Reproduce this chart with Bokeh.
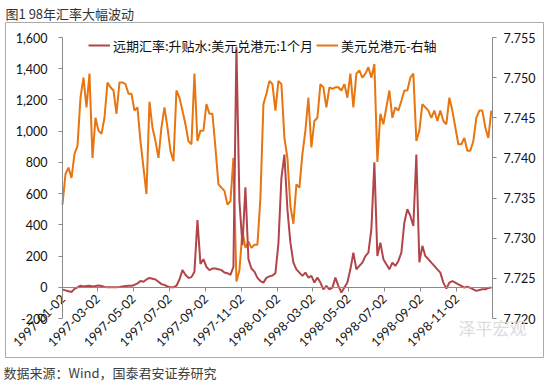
import math
import pandas as pd
from bokeh.plotting import figure
from bokeh.models import (Range1d, LinearAxis, DatetimeAxis, FixedTicker, NumeralTickFormatter,
                          DatetimeTickFormatter, Legend, LegendItem, Label, Title)
from bokeh.embed import file_html
from bokeh.resources import INLINE

# ---------------- data ----------------
title_text = "图1 98年汇率大幅波动"
source_text = "数据来源：Wind，国泰君安证券研究"
watermark_text = "泽平宏观"
name_fwd = "远期汇率:升贴水:美元兑港元:1个月"
name_spot = "美元兑港元-右轴"

dates = pd.date_range("1997-01-02", "1998-12-31", periods=144)

usdhkd = [
    7.7342, 7.7380, 7.7388, 7.7375, 7.7405, 7.7415, 7.7475, 7.7500, 7.7463, 7.7505,
    7.7400, 7.7450, 7.7434, 7.7430, 7.7450, 7.7494, 7.7488, 7.7484, 7.7455, 7.7494,
    7.7494, 7.7492, 7.7480, 7.7480, 7.7459, 7.7463, 7.7421, 7.7388, 7.7355, 7.7470,
    7.7438, 7.7421, 7.7400, 7.7438, 7.7463, 7.7438, 7.7409, 7.7396, 7.7484, 7.7475,
    7.7459, 7.7442, 7.7421, 7.7417, 7.7505, 7.7421, 7.7434, 7.7434, 7.7467, 7.7455,
    7.7455, 7.7413, 7.7367, 7.7363, 7.7359, 7.7342, 7.7346, 7.7400, 7.7246, 7.7260,
    7.7309, 7.7288, 7.7296, 7.7288, 7.7292, 7.7292, 7.7350, 7.7467, 7.7480, 7.7496,
    7.7492, 7.7459, 7.7496, 7.7492, 7.7425, 7.7400, 7.7340, 7.7318, 7.7367, 7.7363,
    7.7405, 7.7434, 7.7475, 7.7413, 7.7446, 7.7450, 7.7492, 7.7488, 7.7463, 7.7488,
    7.7486, 7.7488, 7.7488, 7.7484, 7.7492, 7.7475, 7.7505, 7.7463, 7.7505, 7.7509,
    7.7500, 7.7505, 7.7513, 7.7500, 7.7517, 7.7395, 7.7455, 7.7442, 7.7463, 7.7484,
    7.7450, 7.7463, 7.7459, 7.7471, 7.7484, 7.7484, 7.7500, 7.7505, 7.7421, 7.7434,
    7.7467, 7.7463, 7.7459, 7.7450, 7.7459, 7.7446, 7.7459, 7.7446, 7.7442, 7.7475,
    7.7459, 7.7438, 7.7417, 7.7417, 7.7425, 7.7409, 7.7409, 7.7421, 7.7450, 7.7459,
    7.7459, 7.7438, 7.7425, 7.7459,
]

fwd_points = [
    -15, -20, -25, -30, -10, 0, 10, 5, 8, 10,
    5, 8, 12, 8, 2, 0, 0, 0, 0, 2,
    5, 8, 10, 10, 15, 25, 40, 35, 50, 60,
    55, 50, 35, 20, 15, 5, 0, 0, 10, 50,
    110, 80, 60, 65, 100, 430, 150, 180, 130, 110,
    120, 120, 115, 110, 95, 90, 80, 130, 1540, 550,
    270, 640, 180, 120, 100, 60, 40, 30, 60, 70,
    75, 90, 280, 700, 850, 500, 286, 158, 115, 94,
    73, 94, 62, 73, 30, 62, 30, -13, 9, -13,
    -2, 62, 9, -34, -2, 30, 115, 222, 115, 137,
    158, 200, 222, 372, 800, 200, 286, 180, 147, 115,
    158, 137, 169, 222, 415, 500, 457, 393, 850, 160,
    265, 200, 180, 158, 137, 115, 94, 30, -9, 30,
    40, 30, 19, 9, -2, 4, -4, -13, -23, -17,
    -13, -13, -4, -2,
]

left_ticks = [-200, 0, 200, 400, 600, 800, 1000, 1200, 1400, 1600]
right_ticks = [7.720, 7.725, 7.730, 7.735, 7.740, 7.745, 7.750, 7.755]
date_ticks = ["1997-01-02", "1997-03-02", "1997-05-02", "1997-07-02", "1997-09-02", "1997-11-02",
              "1998-01-02", "1998-03-02", "1998-05-02", "1998-07-02", "1998-09-02", "1998-11-02"]
x_start, x_end = "1997-01-02", "1999-01-02"

# ---------------- layout (pixels, figure coordinates) ----------------
W, H = 550, 388
FL, FR, FT, FB = 5, 543, 22, 357          # frame box (the grey border)
PL, PR, PT, PB = 62, 492, 37, 318         # plotting area inside the box


def ms(d):
    return pd.Timestamp(d).value / 1e6


x0, x1 = ms(x_start), ms(x_end)
kx = (x1 - x0) / (PR - PL)
kl = (left_ticks[-1] - left_ticks[0]) / (PB - PT)
kr = (right_ticks[-1] - right_ticks[0]) / (PB - PT)


def px_x(px):
    return x0 + (px - PL) * kx


def px_yl(py):
    return left_ticks[0] + (PB - py) * kl


def px_yr(py):
    return right_ticks[0] + (PB - py) * kr


p = figure(width=W, height=H, output_backend="svg", toolbar_location=None,
           x_axis_location=None, y_axis_location=None,
           x_range=Range1d(px_x(FL), px_x(FR)), y_range=Range1d(px_yl(FB), px_yl(FT)),
           min_border_left=FL, min_border_right=W - FR, min_border_top=FT, min_border_bottom=H - FB,
           background_fill_color="white", border_fill_color="white")
p.extra_y_ranges = {"right": Range1d(px_yr(FB), px_yr(FT))}
p.grid.visible = False
p.outline_line_color = "#ababab"
p.outline_line_width = 1

AX = "#8a8a8a"
TICK_FONT = "Lato"

left = LinearAxis(fixed_location=x0, bounds=(left_ticks[0], left_ticks[-1]),
                  ticker=FixedTicker(ticks=left_ticks), formatter=NumeralTickFormatter(format="0,0"))
right = LinearAxis(y_range_name="right", fixed_location=x1, bounds=(right_ticks[0], right_ticks[-1]),
                   ticker=FixedTicker(ticks=right_ticks), formatter=NumeralTickFormatter(format="0.000"))
fmt = "%Y-%m-%d"
bottom = DatetimeAxis(fixed_location=0, bounds=(x0, x1),
                      ticker=FixedTicker(ticks=[ms(d) for d in date_ticks]),
                      formatter=DatetimeTickFormatter(days=fmt, months=fmt, years=fmt, hours=fmt,
                                                      hourmin=fmt, minutes=fmt))
for ax in (left, right, bottom):
    ax.axis_line_color = AX
    ax.major_tick_line_color = AX
    ax.major_tick_in = 0
    ax.major_tick_out = 4
    ax.minor_tick_out = 0
    ax.minor_tick_in = 0
    ax.major_label_text_font = TICK_FONT
    ax.major_label_text_font_size = "12.5px"
    ax.major_label_text_color = "#111111"
left.major_label_standoff = 11
right.major_label_standoff = 7
bottom.major_label_standoff = 5
bottom.major_label_orientation = math.pi / 4
p.add_layout(left, "left")
p.add_layout(right, "right")
p.add_layout(bottom, "below")

r_spot = p.line(dates, usdhkd, y_range_name="right", line_color="#E8750F", line_width=2)
r_fwd = p.line(dates, fwd_points, line_color="#B2454A", line_width=2)

legend = Legend(items=[LegendItem(label=name_fwd, renderers=[r_fwd]),
                       LegendItem(label=name_spot, renderers=[r_spot])],
                orientation="horizontal", location=(88 - FL, FB - 55),
                border_line_color=None, background_fill_alpha=0,
                label_text_font="Noto Sans CJK SC", label_text_font_size="13px",
                label_text_color="#111111",
                glyph_width=22, glyph_height=20, label_standoff=3, spacing=3,
                margin=0, padding=0)
p.add_layout(legend)

p.title.text = title_text
p.title.align = "left"
p.title.offset = 0
p.title.text_font = "Noto Sans CJK SC"
p.title.text_font_size = "13px"
p.title.text_font_style = "normal"
p.title.text_color = "#333333"
p.title.standoff = 0

foot = Title(text=source_text, align="left", offset=-2, text_font="Noto Sans CJK SC",
             text_font_size="13px", text_font_style="normal", text_color="#404040", standoff=7)
p.add_layout(foot, "below")

wm = Label(x=px_x(458), y=px_yl(327), text=watermark_text, text_align="left", text_baseline="middle",
           text_font="Noto Sans CJK SC", text_font_size="17px", text_color="#dcdcdc")
p.add_layout(wm)

open("out.html", "w").write(file_html(p, INLINE))
